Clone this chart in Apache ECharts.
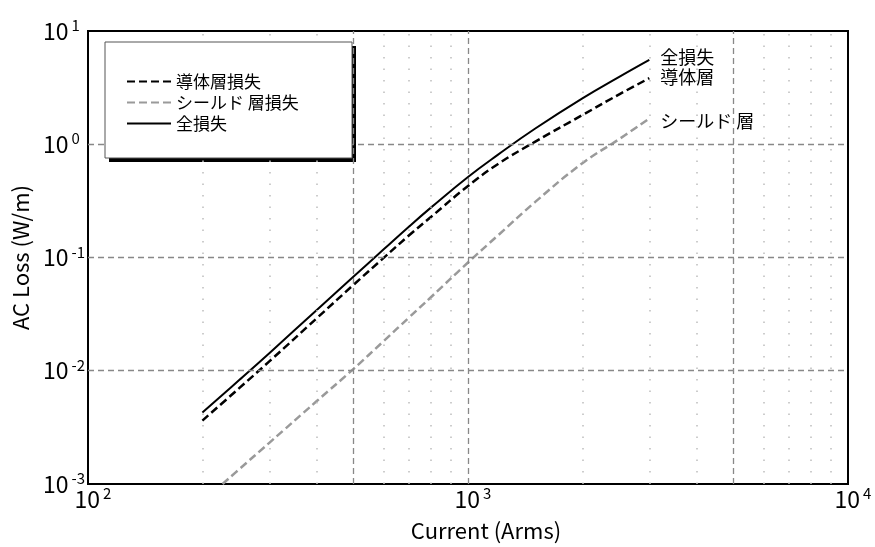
<!DOCTYPE html>
<html><head><meta charset="utf-8">
<script src="https://cdn.jsdelivr.net/npm/echarts@6/dist/echarts.min.js"></script>
<style>html,body{margin:0;padding:0;background:#fff}#c{width:875px;height:547px}</style>
</head><body><div id="c"></div>
<script>
// ---- data ----
const current      = [200, 250, 300, 400, 500, 600, 700, 800, 1000, 1200, 1500, 2000, 2500, 3000];
const totalLoss    = [0.00428, 0.00828, 0.0143, 0.0344, 0.068, 0.118, 0.188, 0.277, 0.514, 0.81, 1.37, 2.54, 3.93, 5.55];
const conductorLoss= [0.00363, 0.00702, 0.0121, 0.0291, 0.0575, 0.0993, 0.157, 0.229, 0.428, 0.67, 1.05, 1.81, 2.76, 3.83];
const shieldCurrent= [226, 250, 300, 400, 500, 600, 700, 800, 1000, 1200, 1500, 2000, 2500, 3000];
const shieldLoss   = [0.001, 0.00135, 0.00231, 0.0054, 0.0104, 0.0183, 0.0296, 0.0448, 0.0904, 0.157, 0.308, 0.68, 1.11, 1.69];
const seriesNames  = ['導体層損失', 'シールド 層損失', '全損失'];
const endLabels    = ['導体層', 'シールド 層', '全損失'];
const xTicks       = [100, 1000, 10000];
const xTickExp     = ['2', '3', '4'];
const yTicks       = [0.001, 0.01, 0.1, 1, 10];
const yTickExp     = ['-3', '-2', '-1', '0', '1'];
const majorX       = [500, 1000, 5000];
const majorY       = [0.01, 0.1, 1];
const minorX       = [200, 300, 400, 600, 700, 800, 900, 2000, 3000, 4000, 6000, 7000, 8000, 9000];
const xTitle = 'Current (Arms)';
const yTitle = 'AC Loss (W/m)';

const FONT = '"Noto Sans CJK JP", "Noto Sans", sans-serif';
const pair = (xs, ys) => xs.map((x, i) => [x, ys[i]]);
const lookup = (ticks, labels, v) => {
  let best = 0;
  ticks.forEach((t, i) => { if (Math.abs(Math.log10(t) - Math.log10(v)) < Math.abs(Math.log10(ticks[best]) - Math.log10(v))) best = i; });
  return labels[best];
};

const gridMarks = [];
minorX.forEach(v => gridMarks.push({ xAxis: v, lineStyle: { color: '#bdbdbd', width: 1.5, type: [1.5, 10] } }));
majorX.forEach(v => gridMarks.push({ xAxis: v, lineStyle: { color: '#888', width: 1.3, type: [6, 4] } }));
majorY.forEach(v => gridMarks.push({ yAxis: v, lineStyle: { color: '#888', width: 1.3, type: [6, 4] } }));

const chart = echarts.init(document.getElementById('c'), null, { renderer: 'canvas' });
chart.setOption({
  animation: false,
  backgroundColor: '#fff',
  textStyle: { fontFamily: FONT },
  grid: { left: 88, right: 27, top: 31, bottom: 60, show: true, borderColor: '#000', borderWidth: 2, backgroundColor: 'transparent' },
  xAxis: {
    type: 'log', logBase: 10, min: 100, max: 10000,
    name: xTitle, nameLocation: 'middle', nameGap: 36,
    nameTextStyle: { fontSize: 22, color: '#000', fontFamily: FONT, padding: [0, 0, 0, 36] },
    axisLine: { show: true, lineStyle: { color: '#000', width: 2 } },
    axisTick: { show: false }, splitLine: { show: false },
    axisLabel: {
      margin: 2, color: '#000', padding: [0, 0, 0, 10],
      formatter: v => '{a|10}{b|' + lookup(xTicks, xTickExp, v) + '}',
      rich: { a: { fontSize: 23, fontFamily: FONT, color: '#000', lineHeight: 26 },
              b: { fontSize: 15, fontFamily: FONT, color: '#000', verticalAlign: 'top', lineHeight: 15, padding: [0, 0, 0, 3] } }
    }
  },
  yAxis: {
    type: 'log', logBase: 10, min: 0.001, max: 10,
    name: yTitle, nameLocation: 'middle', nameGap: 53,
    nameTextStyle: { fontSize: 22, color: '#000', fontFamily: FONT },
    axisLine: { show: true, lineStyle: { color: '#000', width: 2 } },
    axisTick: { show: false }, splitLine: { show: false },
    axisLabel: {
      margin: 45, align: 'left', color: '#000',
      formatter: v => '{a|10}{b|' + lookup(yTicks, yTickExp, v) + '}',
      rich: { a: { fontSize: 23, fontFamily: FONT, color: '#000', lineHeight: 26 },
              b: { fontSize: 15, fontFamily: FONT, color: '#000', verticalAlign: 'top', lineHeight: 15, padding: [0, 0, 0, 3] } }
    }
  },
  legend: {
    show: true, orient: 'vertical', left: 126, top: 71, padding: 0, itemGap: 0, z: 200, zlevel: 0,
    itemWidth: 44, itemHeight: 14,
    data: seriesNames,
    itemStyle: { opacity: 0, borderWidth: 0 },
    textStyle: { fontSize: 17, color: '#000', fontFamily: FONT, lineHeight: 21 }
  },
  graphic: {
    elements: [
      { type: 'rect', z: 5, shape: { x: 109, y: 46, width: 247, height: 116 }, style: { fill: '#000' } },
      { type: 'rect', z: 6, shape: { x: 105, y: 42, width: 247, height: 116 }, style: { fill: '#fff', stroke: '#555', lineWidth: 1 } }
    ]
  },
  series: [
    { name: 'grid', type: 'line', data: [], z: 1, silent: true,
      markLine: { silent: true, symbol: 'none', label: { show: false }, animation: false, data: gridMarks } },
    { name: seriesNames[0], type: 'line', z: 3, data: pair(current, conductorLoss), showSymbol: false, symbol: 'none', smooth: 0.45,
      lineStyle: { color: '#000', width: 2.5, type: [8, 4] }, itemStyle: { color: '#000' },
      endLabel: { show: true, formatter: () => endLabels[0], fontSize: 18, color: '#000', fontFamily: FONT, distance: 11, offset: [0, -1] } },
    { name: seriesNames[1], type: 'line', z: 3, data: pair(shieldCurrent, shieldLoss), showSymbol: false, symbol: 'none', smooth: 0.45,
      lineStyle: { color: '#9a9a9a', width: 2.5, type: [8, 4] }, itemStyle: { color: '#9a9a9a' },
      endLabel: { show: true, formatter: () => endLabels[1], fontSize: 18, color: '#000', fontFamily: FONT, distance: 11, offset: [0, 3] } },
    { name: seriesNames[2], type: 'line', z: 3, data: pair(current, totalLoss), showSymbol: false, symbol: 'none', smooth: 0.45,
      lineStyle: { color: '#000', width: 2, type: 'solid' }, itemStyle: { color: '#000' },
      endLabel: { show: true, formatter: () => endLabels[2], fontSize: 18, color: '#000', fontFamily: FONT, distance: 11, offset: [0, -3] } }
  ]
});
</script></body></html>
